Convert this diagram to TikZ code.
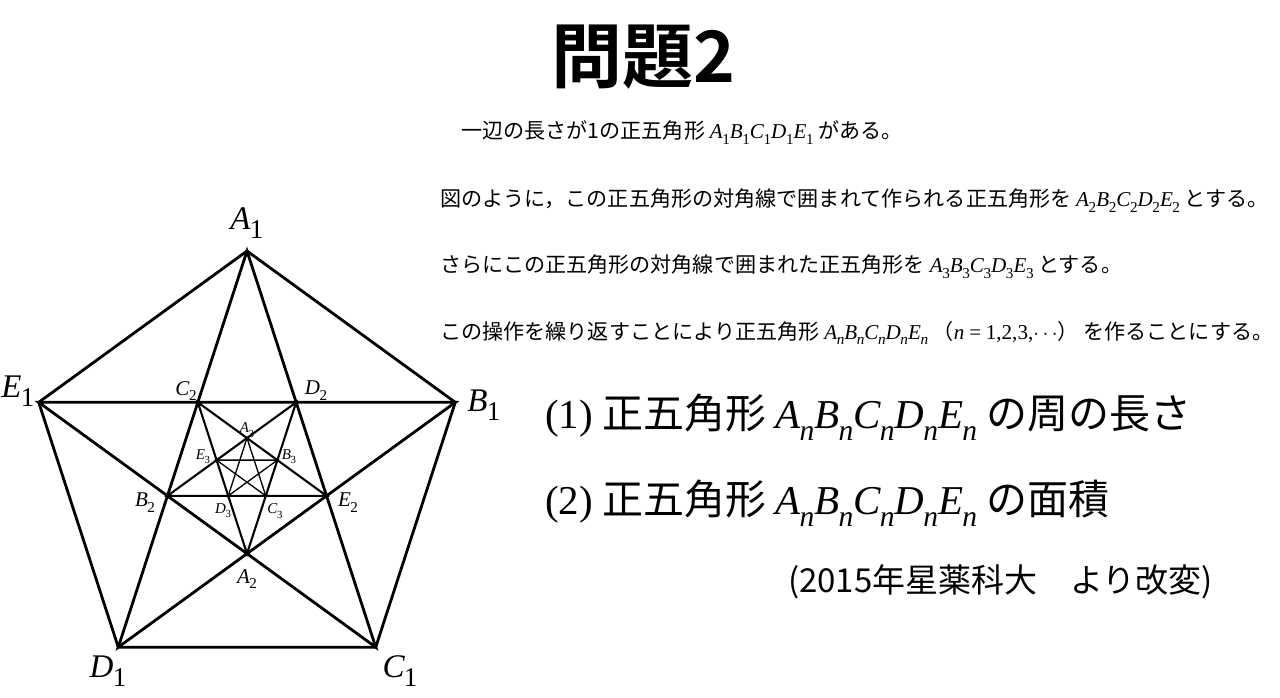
\documentclass[tikz,border=0pt]{standalone}
\usepackage{graphicx}
\usepackage{fontspec}
\setmainfont{Noto Sans CJK JP}
\newfontfamily\tms{Liberation Serif}
\newfontfamily\ttlfont{Noto Sans CJK JP Bold}
\newcommand\Vx[3][0.72]{{\tms\itshape #2\kern-0.02em\raisebox{-0.28em}{\scalebox{#1}{\upshape #3}}}}
\newcommand\Vn[1]{\Vx{#1}{\itshape n}}
\tikzset{
  edgeA/.style={line width=2.8pt, line join=miter, miter limit=10},
  edgeB/.style={line width=2.1pt, line join=miter, miter limit=10},
  edgeC/.style={line width=1.3pt, line join=miter, miter limit=10},
  lblbig/.style={inner sep=0pt, font=\fontsize{33}{33}\selectfont},
  lblmid/.style={inner sep=0pt, font=\fontsize{21}{21}\selectfont},
  lblsml/.style={inner sep=0pt, font=\fontsize{15}{15}\selectfont},
  bodytxt/.style={anchor=west, inner sep=0pt, font=\fontsize{21.1}{21.1}\selectfont},
  bigtxt/.style={anchor=west, inner sep=0pt, font=\fontsize{41}{41}\selectfont},
}
\begin{document}
\begin{tikzpicture}[x=1pt,y=-1pt]
\useasboundingbox[fill=white] (0,0) rectangle (1280,697);
% pentagon 1
\coordinate (A1) at (247,251);
\coordinate (B1) at (455.28,402.32);
\coordinate (C1) at (375.73,647.18);
\coordinate (D1) at (118.27,647.18);
\coordinate (E1) at (38.72,402.32);
% pentagon 2
\coordinate (A2) at (247,553.65);
\coordinate (B2) at (167.44,495.85);
\coordinate (C2) at (197.83,402.33);
\coordinate (D2) at (296.17,402.33);
\coordinate (E2) at (326.56,495.85);
% pentagon 3
\coordinate (A3) at (247,438.05);
\coordinate (B3) at (277.39,460.13);
\coordinate (C3) at (265.78,495.85);
\coordinate (D3) at (228.22,495.85);
\coordinate (E3) at (216.61,460.13);

\draw[edgeA] (A1)--(B1)--(C1)--(D1)--(E1)--cycle;
\draw[edgeA] (A1)--(C1)--(E1)--(B1)--(D1)--cycle;
\draw[edgeB] (A2)--(C2)--(E2)--(B2)--(D2)--cycle;
\draw[edgeC] (A3)--(C3)--(E3)--(B3)--(D3)--cycle;

% vertex labels
\node[lblbig] (lA1) at (247,223) {\Vx[0.82]{A}{1}};
\node[lblbig] (lB1) at (484,405) {\Vx[0.82]{B}{1}};
\node[lblbig] (lC1) at (400,671) {\Vx[0.82]{C}{1}};
\node[lblbig] (lD1) at (108,671) {\Vx[0.82]{D}{1}};
\node[lblbig] (lE1) at (18,391) {\Vx[0.82]{E}{1}};
\node[lblmid] (lA2) at (247,579) {\Vx{A}{2}};
\node[lblmid] (lB2) at (145,503) {\Vx{B}{2}};
\node[lblmid] (lC2) at (186,391) {\Vx{C}{2}};
\node[lblmid] (lD2) at (316,391) {\Vx{D}{2}};
\node[lblmid] (lE2) at (348,503) {\Vx{E}{2}};
\node[lblsml] (lA3) at (247,430) {\Vx{A}{3}};
\node[lblsml] (lB3) at (289,457) {\Vx{B}{3}};
\node[lblsml] (lC3) at (275,511) {\Vx{C}{3}};
\node[lblsml] (lD3) at (223,511) {\Vx{D}{3}};
\node[lblsml] (lE3) at (203,457) {\Vx{E}{3}};

% title
\node[inner sep=0pt, font=\fontsize{71}{71}\selectfont\ttlfont] (title) at (643,57) {問題2};

% body
\node[bodytxt] (line1) at (440,133) {　一辺の長さが1の正五角形 \Vx{A}{1}\Vx{B}{1}\Vx{C}{1}\Vx{D}{1}\Vx{E}{1} がある。};
\node[bodytxt] (line2) at (440,201) {図のように，この正五角形の対角線で囲まれて作られる正五角形を \Vx{A}{2}\Vx{B}{2}\Vx{C}{2}\Vx{D}{2}\Vx{E}{2} とする。};
\node[bodytxt] (line3) at (440,267) {さらにこの正五角形の対角線で囲まれた正五角形を \Vx{A}{3}\Vx{B}{3}\Vx{C}{3}\Vx{D}{3}\Vx{E}{3} とする。};
\node[bodytxt] (line4) at (440,333) {この操作を繰り返すことにより正五角形 \Vn{A}\Vn{B}\Vn{C}\Vn{D}\Vn{E} （{\tms\itshape n} {\tms =} {\tms 1,2,3,}$\cdots$） を作ることにする。};

% questions
\node[bigtxt] (q1) at (545,417) {{\tms (1)} 正五角形 \Vn{A}\Vn{B}\Vn{C}\Vn{D}\Vn{E} の周の長さ};
\node[bigtxt] (q2) at (545,503) {{\tms (2)} 正五角形 \Vn{A}\Vn{B}\Vn{C}\Vn{D}\Vn{E} の面積};
\node[anchor=west, inner sep=0pt, font=\fontsize{33}{33}\selectfont] (src) at (788,582) {(2015年星薬科大　より改変)};
\end{tikzpicture}
\end{document}
